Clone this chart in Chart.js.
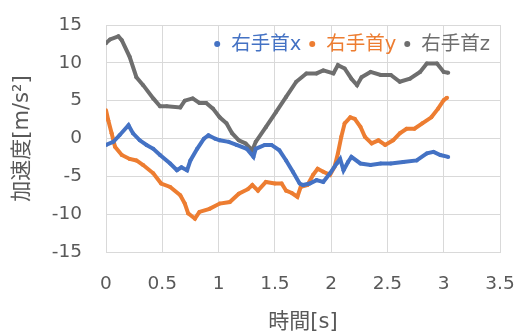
<!DOCTYPE html>
<html><head><meta charset="utf-8">
<script src="https://cdn.jsdelivr.net/npm/chart.js@4/dist/chart.umd.min.js"></script>
<style>html,body{margin:0;padding:0;background:#fff;}</style>
</head><body>
<canvas id="c" width="518" height="334"></canvas>
<script>
const seriesLabels = ['右手首x', '右手首y', '右手首z'];
const seriesColors = ['#4472C4', '#ED7D31', '#6E6E6E'];
const xTickLabels = ['0', '0.5', '1', '1.5', '2', '2.5', '3', '3.5'];
const yTickLabels = ['-15', '-10', '-5', '0', '5', '10', '15'];

const timeX = [0,0.065,0.12,0.20,0.24,0.30,0.36,0.42,0.48,0.57,0.63,0.67,0.72,0.75,0.81,0.87,0.91,0.97,1.01,1.09,1.16,1.25,1.31,1.33,1.41,1.47,1.54,1.60,1.66,1.72,1.75,1.81,1.87,1.93,1.99,2.05,2.08,2.11,2.15,2.18,2.26,2.35,2.44,2.53,2.64,2.76,2.85,2.91,2.97,3.04];
const accX  = [-0.85,-0.44,0.43,1.75,0.68,-0.24,-0.85,-1.36,-2.18,-3.3,-4.2,-3.8,-4.2,-2.9,-1.36,-0.03,0.43,-0.03,-0.24,-0.44,-0.85,-1.36,-2.43,-1.36,-0.85,-0.85,-1.56,-2.9,-4.4,-5.95,-6.15,-5.95,-5.5,-5.75,-4.6,-3.3,-2.7,-4.2,-3.1,-2.43,-3.3,-3.5,-3.3,-3.3,-3.1,-2.9,-1.97,-1.77,-2.18,-2.43];

const timeY = [0,0.02,0.05,0.08,0.14,0.21,0.27,0.33,0.42,0.49,0.57,0.66,0.70,0.73,0.79,0.83,0.92,1.01,1.10,1.18,1.26,1.30,1.35,1.42,1.50,1.56,1.60,1.65,1.70,1.73,1.79,1.84,1.88,1.93,1.99,2.03,2.06,2.09,2.12,2.17,2.21,2.26,2.30,2.36,2.42,2.48,2.55,2.61,2.67,2.74,2.81,2.89,2.95,3.00,3.03];
const accY  = [3.74,2.41,0.68,-1.1,-2.18,-2.7,-2.9,-3.5,-4.6,-5.95,-6.4,-7.5,-8.6,-9.9,-10.6,-9.7,-9.3,-8.6,-8.4,-7.3,-6.7,-6.15,-6.9,-5.75,-5.95,-5.95,-6.9,-7.2,-7.7,-6.4,-6.15,-4.8,-4.0,-4.4,-4.8,-3.75,-1.97,0.22,2.0,2.8,2.6,1.55,0.22,-0.65,-0.24,-0.85,-0.24,0.68,1.29,1.29,2.0,2.8,3.94,5.07,5.4];

const timeZ = [0,0.036,0.11,0.14,0.21,0.27,0.33,0.42,0.48,0.54,0.66,0.70,0.77,0.83,0.89,0.95,1.01,1.07,1.12,1.18,1.24,1.30,1.33,1.42,1.51,1.60,1.69,1.78,1.87,1.93,2.02,2.06,2.12,2.18,2.23,2.27,2.35,2.44,2.53,2.61,2.70,2.79,2.85,2.94,3.00,3.04];
const accZ  = [12.6,13.1,13.5,13.0,10.8,8.1,7.05,5.3,4.25,4.25,4.1,5.0,5.3,4.7,4.7,3.95,2.8,2.0,0.7,-0.24,-0.65,-1.56,-0.44,1.5,3.5,5.5,7.5,8.6,8.6,9.0,8.6,9.7,9.25,7.9,7.05,8.1,8.8,8.4,8.4,7.5,7.9,8.8,9.9,9.9,8.8,8.7];

const FONT = "'DejaVu Sans', 'Noto Sans CJK JP', sans-serif";
const TEXT = '#595959';
const GRID = '#D9D9D9';

function pts(xs, ys) { return xs.map((x, i) => ({x: x, y: ys[i]})); }

function ds(i, xs, ys) {
  return {
    label: seriesLabels[i],
    data: pts(xs, ys),
    showLine: true,
    borderColor: seriesColors[i],
    backgroundColor: seriesColors[i],
    borderWidth: 4,
    pointRadius: 2,
    pointBorderWidth: 0,
    tension: 0
  };
}

const insideLegend = {
  id: 'insideLegend',
  afterDatasetsDraw(chart) {
    const ctx = chart.ctx;
    const area = chart.chartArea;
    ctx.save();
    ctx.font = '19.5px ' + FONT;
    ctx.textBaseline = 'middle';
    const y = 44;
    const dotGap = 15, itemGap = 10;
    const items = chart.data.datasets.map(d => ({label: d.label, color: d.borderColor, w: ctx.measureText(d.label).width}));
    let total = 0;
    items.forEach((it, i) => { total += dotGap + it.w + (i < items.length - 1 ? itemGap : 0); });
    let x = area.right - 10 - total;
    items.forEach(it => {
      ctx.fillStyle = it.color;
      ctx.beginPath();
      ctx.arc(x + 1, y, 3, 0, Math.PI * 2);
      ctx.fill();
      ctx.fillText(it.label, x + dotGap, y + 1);
      x += dotGap + it.w + itemGap;
    });
    ctx.restore();
  }
};

new Chart(document.getElementById('c'), {
  type: 'scatter',
  data: {
    datasets: [ds(0, timeX, accX), ds(1, timeY, accY), ds(2, timeZ, accZ)]
  },
  options: {
    responsive: false,
    animation: false,
    layout: { padding: { top: 25, right: 18, left: 0, bottom: 0 } },
    plugins: { legend: { display: false }, tooltip: { enabled: false } },
    scales: {
      x: {
        type: 'linear', min: 0, max: 3.5,
        afterBuildTicks(scale) { scale.ticks = xTickLabels.map(v => ({value: parseFloat(v)})); },
        afterFit(scale) { scale.height = 82; scale.paddingLeft = 0; scale.paddingRight = 0; },
        ticks: {
          color: TEXT, font: { family: FONT, size: 18.5 }, padding: 21, maxRotation: 0,
          callback: (v) => xTickLabels.find(t => parseFloat(t) === v) ?? ''
        },
        grid: { color: GRID, drawTicks: false },
        border: { color: GRID },
        title: { display: true, text: '時間[s]', color: TEXT, font: { family: FONT, size: 21, lineHeight: 1.1 }, padding: { top: 0, bottom: 0 } }
      },
      y: {
        type: 'linear', min: -15, max: 15,
        afterBuildTicks(scale) { scale.ticks = yTickLabels.map(v => ({value: parseFloat(v)})); },
        afterFit(scale) { scale.width = 106; scale.paddingTop = 0; scale.paddingBottom = 0; },
        ticks: {
          color: TEXT, font: { family: FONT, size: 18.5 }, padding: 24,
          callback: (v) => yTickLabels.find(t => parseFloat(t) === v) ?? ''
        },
        grid: { color: GRID, drawTicks: false },
        border: { color: GRID },
        title: { display: true, text: '加速度[m/s²]', color: TEXT, font: { family: FONT, size: 21, lineHeight: 1.1 }, padding: { top: 11, bottom: 0 } }
      }
    }
  },
  plugins: [insideLegend]
});
</script>
</body></html>
